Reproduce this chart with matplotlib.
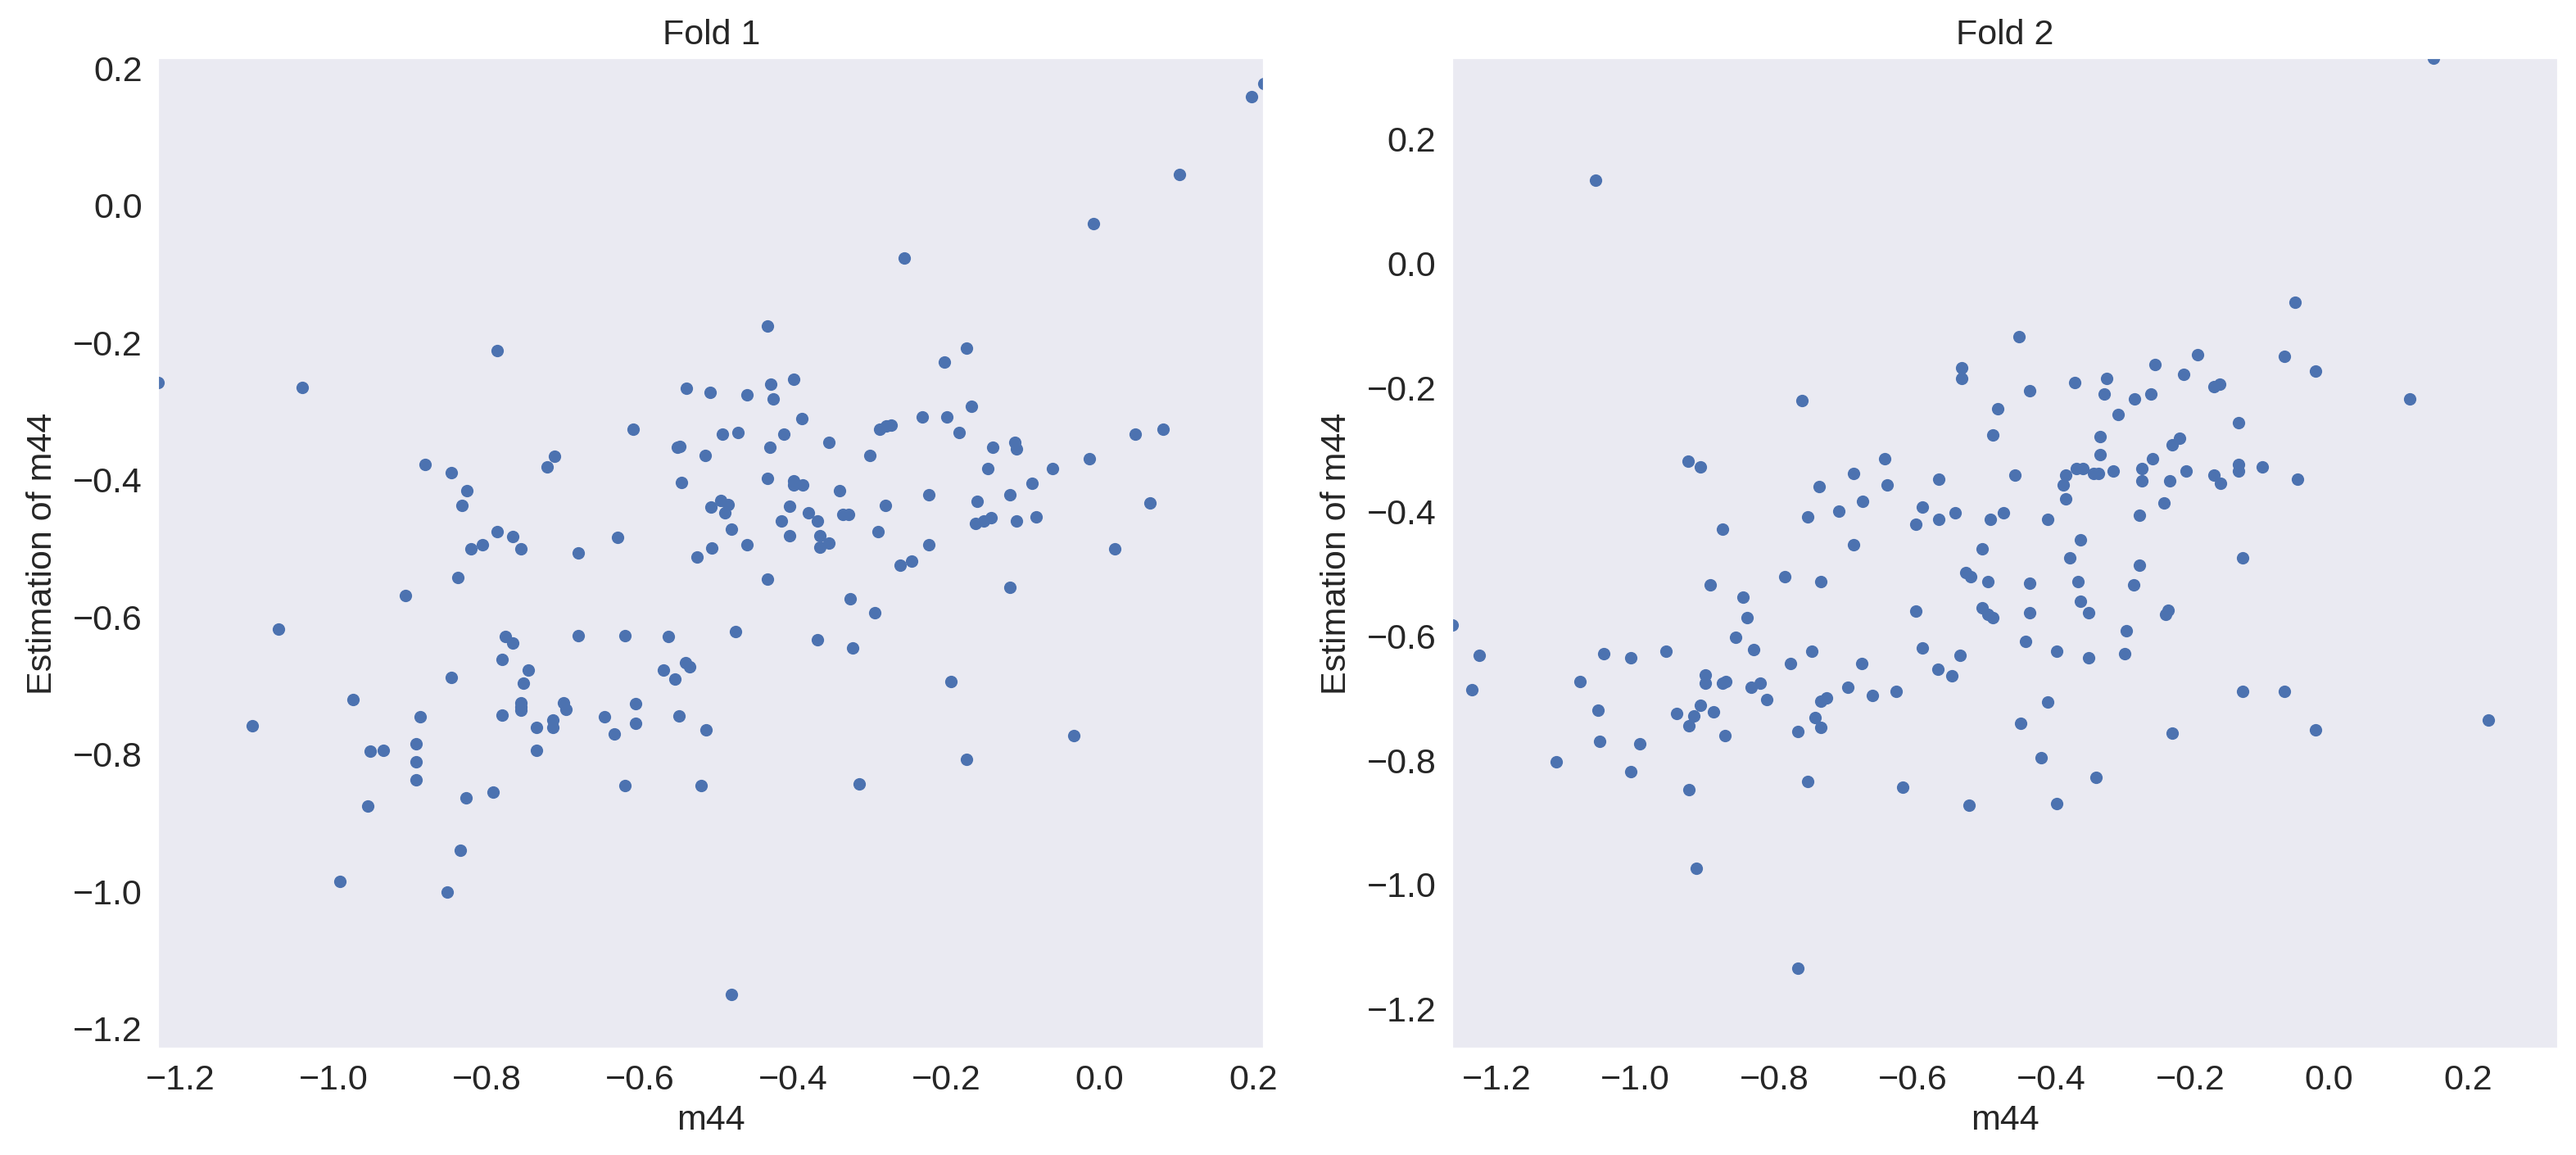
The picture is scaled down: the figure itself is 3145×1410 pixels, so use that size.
import numpy as np
import matplotlib
matplotlib.use("Agg")
import matplotlib.pyplot as plt
import seaborn as sns

# fold 1: true m44 vs estimated m44
fold1_x = [
    -1.229, -1.041, -0.787, -0.540, -0.508, -0.609, -0.551, -0.548, -0.515, -0.712,
    -0.721, -0.881, -0.846, -0.826, -0.832, -0.546, -0.787, -0.766, -0.806, -0.821,
    -0.755, -0.681, -0.629, -0.526,
    0.2145, 0.198, 0.104, -0.008, -0.255, -0.434, -0.174, -0.203, -0.400, -0.429,
    -0.426, -0.460, -0.168, -0.389, -0.232, -0.200, -0.287, -0.279, -0.272, -0.492,
    -0.472, -0.412, -0.183, 0.046, 0.083, -0.431, -0.354, -0.140, -0.111, -0.109,
    -0.300, -0.014, -0.146, -0.062, -0.434, -0.400, -0.400, -0.388, -0.088, -0.340,
    -0.223, -0.117, 0.066, -0.507, -0.495, -0.485, -0.489, -0.405, -0.280, -0.160,
    -0.380, -0.335, -0.328, -0.415, -0.369, -0.162, -0.151, -0.142, -0.109, -0.083,
    -0.481, -0.405, -0.365, -0.289, -0.506, -0.460, -0.365, -0.354, -0.223, 0.020,
    -0.260, -0.246,
    -0.838, -0.906, -1.072, -0.776, -0.766, -0.681, -0.620, -0.563, -0.780, -0.746,
    -0.569, -0.541, -0.535, -0.554, -0.752, -0.846, -0.975, -0.755, -0.755, -0.755,
    -0.700, -0.697, -0.606, -0.780, -0.887, -0.646, -0.549, -1.106, -0.735, -0.714,
    -0.714, -0.606, -0.634, -0.514, -0.892, -0.952, -0.935, -0.735, -0.892, -0.892,
    -0.620, -0.520, -0.792, -0.827, -0.955, -0.835, -0.992, -0.852,
    -0.434, -0.117, -0.326, -0.294, -0.475, -0.369, -0.323, -0.194, -0.034, -0.174,
    -0.314, -0.481,
]
fold1_y = [
    -0.258, -0.265, -0.212, -0.267, -0.273, -0.326, -0.353, -0.351, -0.364, -0.366,
    -0.381, -0.378, -0.390, -0.416, -0.437, -0.404, -0.475, -0.483, -0.495, -0.501,
    -0.501, -0.507, -0.484, -0.513,
    0.177, 0.159, 0.045, -0.027, -0.077, -0.176, -0.208, -0.229, -0.253, -0.261,
    -0.282, -0.276, -0.293, -0.311, -0.308, -0.308, -0.326, -0.321, -0.320, -0.334,
    -0.331, -0.334, -0.331, -0.334, -0.326, -0.352, -0.346, -0.352, -0.345, -0.355,
    -0.364, -0.369, -0.384, -0.384, -0.398, -0.401, -0.408, -0.407, -0.405, -0.416,
    -0.422, -0.422, -0.434, -0.440, -0.430, -0.436, -0.448, -0.439, -0.437, -0.431,
    -0.448, -0.451, -0.451, -0.460, -0.460, -0.464, -0.460, -0.455, -0.460, -0.454,
    -0.472, -0.481, -0.481, -0.475, -0.499, -0.495, -0.498, -0.492, -0.495, -0.501,
    -0.524, -0.519,
    -0.542, -0.569, -0.618, -0.629, -0.638, -0.627, -0.627, -0.629, -0.662, -0.677,
    -0.677, -0.667, -0.673, -0.691, -0.697, -0.688, -0.720, -0.725, -0.731, -0.736,
    -0.725, -0.735, -0.726, -0.743, -0.746, -0.746, -0.744, -0.758, -0.761, -0.750,
    -0.761, -0.755, -0.770, -0.764, -0.785, -0.796, -0.794, -0.794, -0.811, -0.837,
    -0.846, -0.846, -0.855, -0.864, -0.875, -0.940, -0.986, -1.001,
    -0.545, -0.557, -0.574, -0.594, -0.621, -0.633, -0.645, -0.694, -0.773, -0.808,
    -0.843, -1.150,
]

# fold 2
fold2_x = [
    -1.057, -0.760, -0.924, -0.906, -0.640, -0.685, -0.563, -0.735, -0.637, -0.672,
    -0.586, -0.706, -0.751, -0.563, -0.595, -0.874, -0.685,
    0.150, -0.049, -0.447, -0.190, -0.064, -0.020, -0.251, -0.529, -0.529, -0.210,
    -0.320, -0.367, -0.166, -0.158, -0.431, -0.324, -0.257, -0.280, 0.116, -0.478,
    -0.304, -0.131, -0.485, -0.330, -0.226, -0.216, -0.330, -0.254, -0.131, -0.131,
    -0.096, -0.364, -0.355, -0.339, -0.332, -0.311, -0.270, -0.206, -0.380, -0.453,
    -0.166, -0.156, -0.045, -0.383, -0.270, -0.229, -0.380, -0.238, -0.539, -0.469,
    -0.488, -0.406, -0.273, -0.358, -0.500, -0.374, -0.273, -0.124,
    -1.264, -0.784, -0.732, -0.892, -0.845, -0.839, -0.596, -0.855, -1.225, -0.829,
    -0.745, -1.045, -1.006, -0.956, -0.586, -0.776, -0.674, -0.564, -1.235, -1.080,
    -0.899, -0.899, -0.874, -0.869, -0.833, -0.820, -0.810, -0.694, -0.658, -0.624,
    -0.732, -0.724, -1.054, -0.940, -0.906, -0.915, -0.887, -0.922, -0.741, -0.732,
    -0.766, -0.871, -1.051, -0.994, -1.114, -1.006, -0.751, -0.615, -0.922, -0.912,
    -0.766,
    -0.523, -0.516, -0.492, -0.431, -0.362, -0.282, -0.358, -0.500, -0.492, -0.485,
    -0.431, -0.346, -0.235, -0.232, -0.292, -0.437, -0.393, -0.346, -0.295, -0.532,
    -0.544, -0.406, -0.124, -0.064, -0.444, -0.226, -0.020, 0.230, -0.415, -0.336,
    -0.519, -0.393,
]
fold2_y = [
    0.133, -0.221, -0.318, -0.328, -0.315, -0.338, -0.347, -0.360, -0.357, -0.383,
    -0.392, -0.399, -0.408, -0.412, -0.420, -0.428, -0.453,
    0.330, -0.063, -0.118, -0.147, -0.150, -0.173, -0.163, -0.168, -0.186, -0.179,
    -0.186, -0.192, -0.199, -0.195, -0.205, -0.211, -0.211, -0.218, -0.218, -0.234,
    -0.244, -0.257, -0.277, -0.279, -0.292, -0.282, -0.308, -0.315, -0.324, -0.334,
    -0.328, -0.331, -0.331, -0.338, -0.338, -0.335, -0.331, -0.335, -0.341, -0.341,
    -0.341, -0.354, -0.347, -0.357, -0.350, -0.350, -0.379, -0.386, -0.402, -0.402,
    -0.412, -0.412, -0.405, -0.445, -0.460, -0.474, -0.486, -0.474,
    -0.582, -0.505, -0.512, -0.518, -0.538, -0.570, -0.560, -0.602, -0.631, -0.622,
    -0.625, -0.628, -0.635, -0.625, -0.619, -0.644, -0.644, -0.654, -0.686, -0.673,
    -0.663, -0.676, -0.676, -0.673, -0.683, -0.676, -0.702, -0.683, -0.696, -0.689,
    -0.705, -0.700, -0.719, -0.725, -0.712, -0.729, -0.722, -0.744, -0.731, -0.747,
    -0.754, -0.760, -0.770, -0.773, -0.803, -0.818, -0.834, -0.844, -0.847, -0.974,
    -1.135,
    -0.498, -0.505, -0.512, -0.515, -0.512, -0.518, -0.544, -0.554, -0.565, -0.570,
    -0.563, -0.563, -0.565, -0.559, -0.592, -0.609, -0.625, -0.635, -0.628, -0.631,
    -0.664, -0.706, -0.689, -0.689, -0.741, -0.757, -0.751, -0.735, -0.796, -0.828,
    -0.873, -0.870,
]

folds = [("Fold 1", fold1_x, fold1_y), ("Fold 2", fold2_x, fold2_y)]

sns.set_style("dark")
plt.rcParams['font.family'] = ['Liberation Sans', 'DejaVu Sans']

fig, axes = plt.subplots(1, 2, figsize=(15.725, 7.05), dpi=200)
fig.subplots_adjust(left=0.0614, right=0.993, bottom=0.0922, top=0.9496, wspace=0.17)

for ax, (title, xs, ys) in zip(axes, folds):
    xs = np.array(xs)
    ys = np.array(ys)
    ax.scatter(xs, ys, s=30, color="#4C72B0", linewidths=0)
    # same range on both axes, taken from the data
    lo = min(xs.min(), ys.min())
    hi = max(xs.max(), ys.max())
    ax.set_xlim(lo, hi)
    ax.set_ylim(lo, hi)
    ax.set_title(title, fontsize=15.5)
    ax.set_xlabel("m44", fontsize=15.5, labelpad=3)
    ax.set_ylabel("Estimation of m44", fontsize=15.5, labelpad=6)
    ax.tick_params(labelsize=15.5)

fig.savefig("out.png", dpi=200)
